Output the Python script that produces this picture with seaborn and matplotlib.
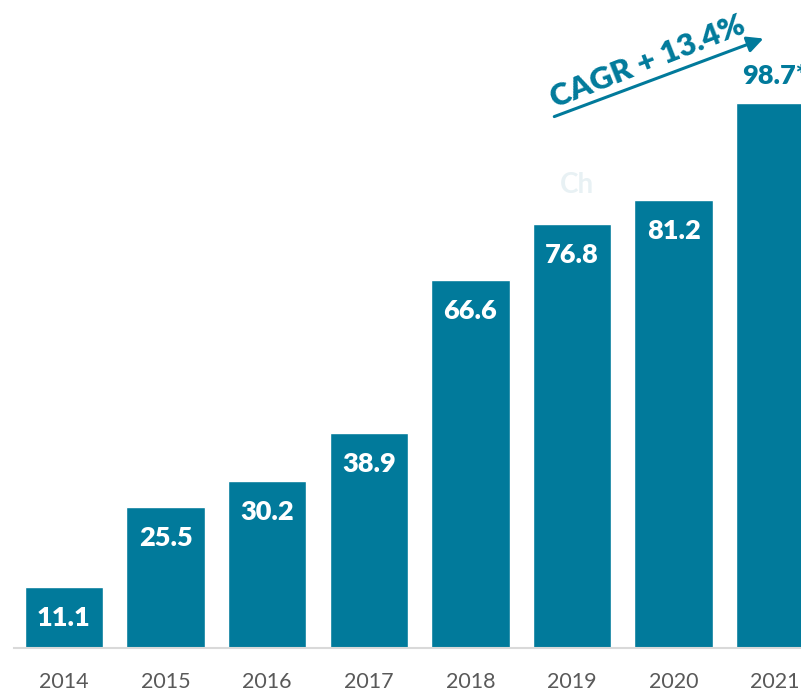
import pandas as pd
import seaborn as sns
import matplotlib.pyplot as plt

years = ['2014', '2015', '2016', '2017', '2018', '2019', '2020', '2021']
values = [11.1, 25.5, 30.2, 38.9, 66.6, 76.8, 81.2, 98.7]
labels = ['11.1', '25.5', '30.2', '38.9', '66.6', '76.8', '81.2', '98.7*']
cagr_text = 'CAGR + 13.4%'

teal = '#017a9b'

sns.set_style('white')
plt.rcParams['font.family'] = ['Lato', 'DejaVu Sans']

df = pd.DataFrame({'year': years, 'value': values})

fig = plt.figure(figsize=(8.01, 6.91), dpi=100)
ax = fig.add_axes([14 / 801, 43 / 691, 1 - 14 / 801, 1 - 43 / 691])

sns.barplot(x='year', y='value', data=df, color=teal, saturation=1, width=0.77, ax=ax)

ax.set_xlim(-0.492, 7.254)
ax.set_ylim(0, 117.4)

# value labels
for i, (v, lab) in enumerate(zip(values, labels)):
    if i == len(values) - 1:
        ax.text(i, v + 4.9, lab, ha='center', va='center', color=teal,
                fontsize=19.5, fontweight='heavy', clip_on=False)
    else:
        ax.text(i, v - 5.6, lab, ha='center', va='center', color='white',
                fontsize=19.5, fontweight='heavy')

# faint watermark remnant
ax.text(4.88, 83.8, 'Ch', ha='left', va='center', color='#e8f1f4',
        fontsize=20, fontweight='bold', zorder=0)

# CAGR arrow and text
ax.annotate('', xy=(6.91, 110.6), xytext=(4.80, 96.1),
            arrowprops=dict(arrowstyle='-|>', color=teal, lw=2.2,
                            mutation_scale=24))
ax.text(5.75, 106.3, cagr_text, ha='center', va='center', color=teal,
        fontsize=22.5, fontweight='heavy', rotation=21.5, rotation_mode='anchor')

ax.set_xlabel('')
ax.set_ylabel('')
ax.set_yticks([])
ax.tick_params(axis='x', length=0, pad=17, labelsize=15.5, labelcolor='#595959')
for s in ['top', 'right', 'left']:
    ax.spines[s].set_visible(False)
ax.spines['bottom'].set_color('#d9d9d9')
ax.spines['bottom'].set_linewidth(1.5)

plt.savefig('out.png', dpi=100)
